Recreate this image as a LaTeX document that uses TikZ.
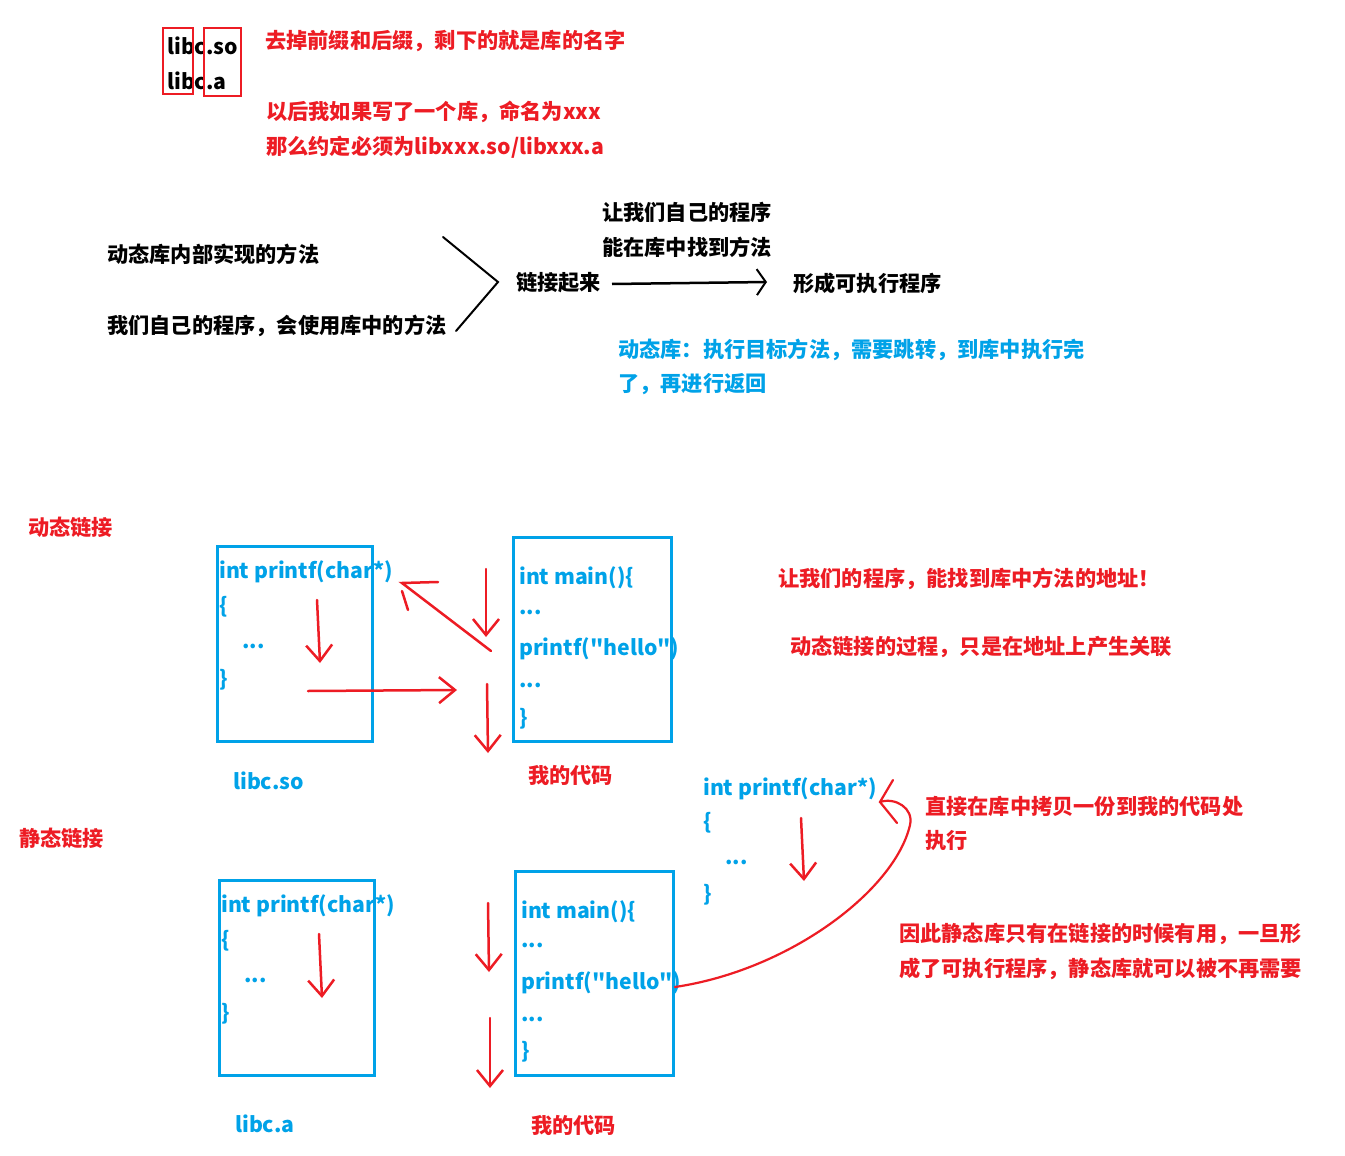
\documentclass[tikz,border=0pt]{standalone}
\usepackage{fontspec}
\newfontfamily\cjkfont{Noto Sans CJK SC}
\usetikzlibrary{arrows.meta}
\definecolor{pred}{HTML}{ED1C24}
\definecolor{pblue}{HTML}{00A2E8}
\begin{document}
\begin{tikzpicture}[x=1pt,y=-1pt,
  txt/.style={anchor=west,inner sep=0pt,font=\cjkfont\fontsize{21.2}{25}\selectfont\bfseries},
  rtxt/.style={txt,text=pred},
  btxt/.style={txt,text=pblue},
  ktxt/.style={txt,text=black},
  codebox/.style={draw=pblue,line width=3pt},
  redbox/.style={draw=pred,line width=2.2pt},
  redline/.style={draw=pred,line width=2.5pt,line cap=round},
  rarr/.style={redline,-{Straight Barb[length=16pt,width=26pt,line width=2.5pt]}},
  karr/.style={draw=black,line width=2.5pt,-{Straight Barb[length=9pt,width=26pt,line width=2pt]}},
  kline/.style={draw=black,line width=2pt,line cap=round}]
\useasboundingbox (0,0) rectangle (1345,1156);
\fill[white] (0,0) rectangle (1345,1156);

% ---- top: library names
\node[ktxt] (so) at (167,46) {libc.so};
\node[ktxt] (a) at (167,81) {libc.a};
\draw[redbox] (163,28) rectangle (193,94);
\draw[redbox] (204,28) rectangle (241,96);
\node[rtxt] (t1) at (265,41) {去掉前缀和后缀，剩下的就是库的名字};
\node[rtxt] (t2) at (266,112) {以后我如果写了一个库，命名为xxx};
\node[rtxt] (t3) at (266,147) {那么约定必须为libxxx.so/libxxx.a};

% ---- linking overview
\node[ktxt] (k1) at (107,254) {动态库内部实现的方法};
\node[ktxt] (k2) at (107,326) {我们自己的程序，会使用库中的方法};
\coordinate (v1) at (443,237);
\coordinate (v2) at (498,282);
\coordinate (v3) at (456,331);
\draw[kline] (v1) -- (v2) -- (v3);
\node[ktxt] (k3) at (516,283) {链接起来};
\node[ktxt] (k4) at (602,212) {让我们自己的程序};
\node[ktxt] (k5) at (602,247) {能在库中找到方法};
\node[ktxt] (k6) at (793,283) {形成可执行程序};
\coordinate (ka) at (612,284);
\coordinate (kb) at (767,282);
\draw[karr] (ka) -- (kb);
\node[btxt] (b1) at (618,350) {动态库：执行目标方法，需要跳转，到库中执行完};
\node[btxt] (b2) at (618,384) {了，再进行返回};

% ---- dynamic linking
\node[rtxt] (dyn) at (28,527) {动态链接};
\draw[codebox] (217,546) rectangle (372,741);
\node[btxt] (d1) at (219,572) {int printf(char*)};
\node[btxt] (d2) at (219,607) {\{};
\node[btxt] (d3) at (242,646) {...};
\node[btxt] (d4) at (219,680) {\}};
\node[btxt] (dso) at (233,781) {libc.so};
\draw[codebox] (513,537) rectangle (671,741);
\node[btxt] (m1) at (519,578) {int main()\{};
\node[btxt] (m2) at (519,612) {...};
\node[btxt] (m3) at (519,649) {printf("hello")};
\node[btxt] (m4) at (519,685) {...};
\node[btxt] (m5) at (519,719) {\}};
\node[rtxt] (dcode) at (528,775) {我的代码};

\coordinate (da1) at (317,600); \coordinate (da2) at (320,663);
\draw[rarr] (da1) -- (da2);
\coordinate (db1) at (486,569); \coordinate (db2) at (486,637);
\draw[rarr] (db1) -- (db2);
\coordinate (dc1) at (491,651); \coordinate (dc2) at (402,583);
\coordinate (dc3) at (438,582); \coordinate (dc4) at (402,591); \coordinate (dc5) at (408,610);
\draw[redline] (dc1) -- (dc2) -- (dc3);
\draw[redline] (dc4) -- (dc5);
\coordinate (dd1) at (308,691); \coordinate (dd2) at (457,690);
\draw[rarr] (dd1) -- (dd2);
\coordinate (de1) at (487,684); \coordinate (de2) at (488,753);
\draw[rarr] (de1) -- (de2);

\node[rtxt] (n1) at (778,579) {让我们的程序，能找到库中方法的地址！};
\node[rtxt] (n2) at (790,647) {动态链接的过程，只是在地址上产生关联};

% ---- static linking
\node[rtxt] (sta) at (19,838) {静态链接};
\draw[codebox] (219,880) rectangle (374,1075);
\node[btxt] (s1) at (221,906) {int printf(char*)};
\node[btxt] (s2) at (221,941) {\{};
\node[btxt] (s3) at (244,980) {...};
\node[btxt] (s4) at (221,1014) {\}};
\node[btxt] (sa) at (235,1124) {libc.a};
\draw[codebox] (515,871) rectangle (673,1075);
\node[btxt] (p1) at (521,912) {int main()\{};
\node[btxt] (p2) at (521,945) {...};
\node[btxt] (p3) at (521,983) {printf("hello")};
\node[btxt] (p4) at (521,1019) {...};
\node[btxt] (p5) at (521,1052) {\}};
\node[rtxt] (scode) at (531,1125) {我的代码};

\coordinate (sa1) at (319,934); \coordinate (sa2) at (322,998);
\draw[rarr] (sa1) -- (sa2);
\coordinate (sb1) at (488,903); \coordinate (sb2) at (489,972);
\draw[rarr] (sb1) -- (sb2);
\coordinate (sc1) at (490,1018); \coordinate (sc2) at (490,1088);
\draw[rarr] (sc1) -- (sc2);

\node[btxt] (c1) at (703,789) {int printf(char*)};
\node[btxt] (c2) at (703,823) {\{};
\node[btxt] (c3) at (725,862) {...};
\node[btxt] (c4) at (703,895) {\}};
\coordinate (ca1) at (801,818); \coordinate (ca2) at (804,881);
\draw[rarr] (ca1) -- (ca2);

\coordinate (cu0) at (675,987);
\coordinate (cu1) at (910,825);
\coordinate (cu2) at (880,802);
\coordinate (ch1) at (893,780);
\coordinate (ch2) at (897,823);
\draw[redline,line width=2.2pt] (cu0) .. controls (790,970) and (895,890) .. (cu1)
  .. controls (914,808) and (895,797) .. (cu2);
\draw[redline,line width=2.2pt] (ch1) -- (cu2) -- (ch2);

\node[rtxt] (q1) at (925,806) {直接在库中拷贝一份到我的代码处};
\node[rtxt] (q2) at (925,841) {执行};
\node[rtxt] (q3) at (899,934) {因此静态库只有在链接的时候有用，一旦形};
\node[rtxt] (q4) at (899,969) {成了可执行程序，静态库就可以被不再需要};
\end{tikzpicture}
\end{document}
